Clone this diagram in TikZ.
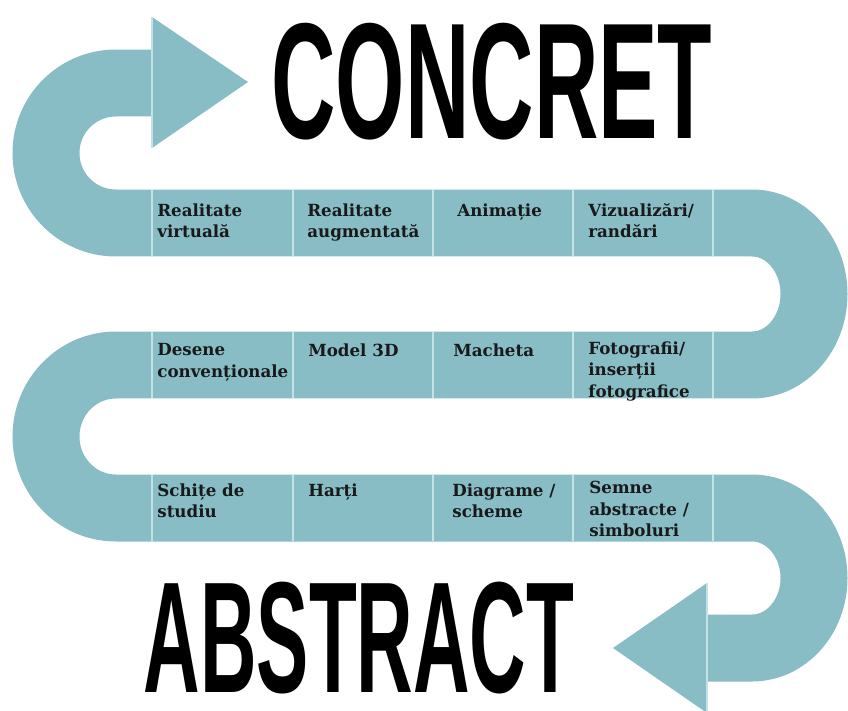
\documentclass[tikz,border=0pt]{standalone}
\usepackage{graphicx}
\usepackage{fontspec}
\newfontfamily\cellfont{DejaVu Serif}
\newfontfamily\titlefont{Liberation Sans}
\definecolor{bandteal}{HTML}{88BDC5}
\definecolor{celledge}{HTML}{C4E1E5}

\begin{document}
\begin{tikzpicture}[x=0.02cm,y=-0.02cm,
    band/.style={draw=bandteal,line width=1.34cm},
    tip/.style={fill=bandteal},
    sep/.style={draw=celledge,line width=0.8pt},
    cell/.style={anchor=north west,inner sep=0pt,align=left,text=black!90,
      font=\cellfont\bfseries\fontsize{9.5}{12.3}\selectfont},
    title/.style={inner sep=0pt,font=\titlefont\bfseries}]
    \useasboundingbox (0,0) rectangle (848,710);

    % winding band
    \draw[band] (152,83) -- (116,83)
      .. controls (77.3,83) and (46,114.3) .. (46,153)
      .. controls (46,191.7) and (77.3,223) .. (116,223)
      -- (752,223)
      .. controls (786.2,223) and (814,254.8) .. (814,294)
      .. controls (814,333.2) and (786.2,365) .. (752,365)
      -- (116,365)
      .. controls (77.3,365) and (46,397) .. (46,436.5)
      .. controls (46,476) and (77.3,508) .. (116,508)
      -- (752,508)
      .. controls (786.2,508) and (814,539.3) .. (814,578)
      .. controls (814,616.7) and (786.2,648) .. (752,648)
      -- (707,648);

    % arrow heads
    \fill[tip] (152,17) -- (248,82) -- (152,148) -- cycle;
    \fill[tip] (707,583) -- (613,648) -- (707,713) -- cycle;
    \draw[sep] (152,17) -- (152,148);
    \draw[sep] (707,583) -- (707,713);

    % cell borders
    \foreach \r in {223,365,508}
      \foreach \x in {152,293,433,573,713}
        \draw[sep] (\x,\r-33) -- (\x,\r+33);

    \node[cell] (virt) at (157,203) {Realitate\\virtuală};
    \node[cell] (augm) at (307,203) {Realitate\\augmentată};
    \node[cell] (anim) at (457,203) {Animație};
    \node[cell] (viz)  at (588,203) {Vizualizări/\\randări};

    \node[cell] (desene) at (157,343) {Desene\\convenționale};
    \node[cell] (model)  at (308,343) {Model 3D};
    \node[cell] (machet) at (453,343) {Macheta};
    \node[cell] (foto)   at (588,341) {Fotografii/\\inserții\\fotografice};

    \node[cell] (schite) at (157,483) {Schițe de\\studiu};
    \node[cell] (harti)  at (308,483) {Harți};
    \node[cell] (diagr)  at (452,483) {Diagrame /\\scheme};
    \node[cell] (semne)  at (589,481) {Semne\\abstracte /\\simboluri};

    \node[title] (concret)  at (492,82)  {\fontsize{94}{94}\selectfont\scalebox{0.54}[1]{CONCRET}};
    \node[title] (abstract) at (359,638) {\fontsize{90}{90}\selectfont\scalebox{0.495}[1]{ABSTRACT}};
\end{tikzpicture}
\end{document}
